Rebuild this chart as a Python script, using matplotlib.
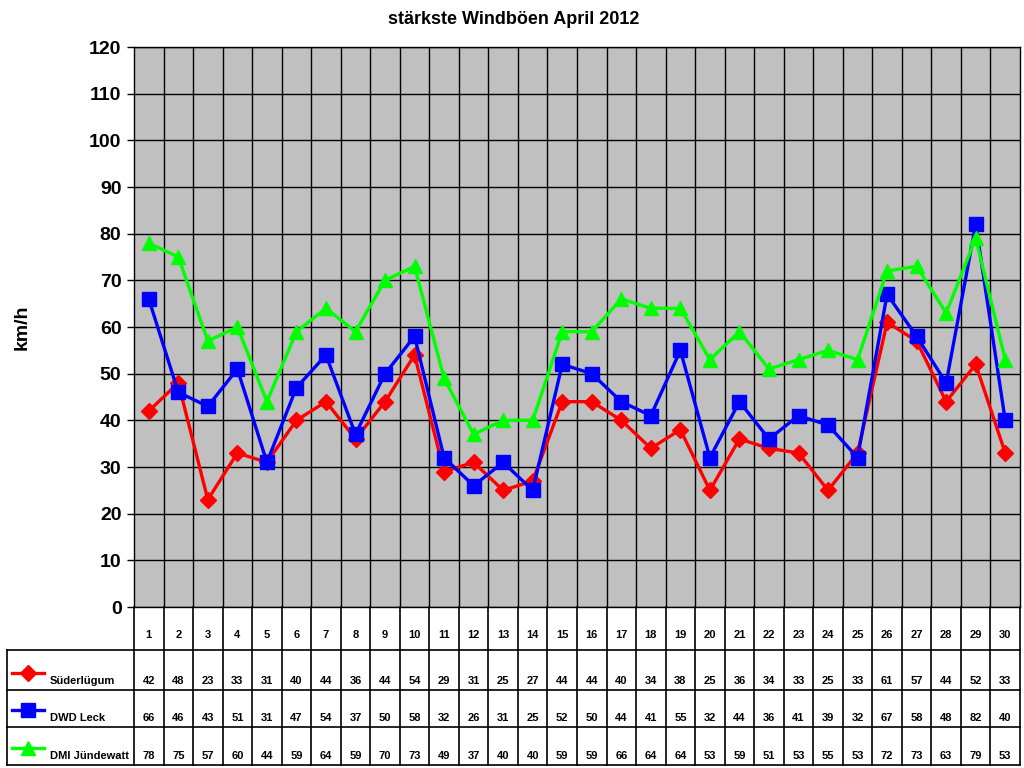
import matplotlib
matplotlib.use("Agg")
import matplotlib.pyplot as plt
from matplotlib.lines import Line2D
import numpy as np

plt.rcParams['font.family'] = ['Liberation Sans', 'DejaVu Sans']
plt.rcParams['font.weight'] = 'bold'

days = list(range(1, 31))
suederluegum = [42, 48, 23, 33, 31, 40, 44, 36, 44, 54, 29, 31, 25, 27, 44, 44, 40, 34, 38, 25,
                36, 34, 33, 25, 33, 61, 57, 44, 52, 33]
dwd_leck = [66, 46, 43, 51, 31, 47, 54, 37, 50, 58, 32, 26, 31, 25, 52, 50, 44, 41, 55, 32,
            44, 36, 41, 39, 32, 67, 58, 48, 82, 40]
dmi_juendewatt = [78, 75, 57, 60, 44, 59, 64, 59, 70, 73, 49, 37, 40, 40, 59, 59, 66, 64, 64, 53,
                  59, 51, 53, 55, 53, 72, 73, 63, 79, 53]
series_names = ['Süderlügum', 'DWD Leck', 'DMI Jündewatt']
series_colors = ['#FF0000', '#0000FF', '#00FF00']
series_markers = ['D', 's', '^']
series_msize = [8, 9.5, 10]
title = 'stärkste Windböen April 2012'
ylabel = 'km/h'

W, H = 1024, 768
fig = plt.figure(figsize=(W / 100, H / 100), dpi=100)
fig.patch.set_facecolor('white')

L, R, T, B = 134, 1020, 47, 607
ax = fig.add_axes([L / W, 1 - B / H, (R - L) / W, (B - T) / H])
ax.set_facecolor('#C0C0C0')

x = np.array(days)
for vals, c, m, ms in zip([suederluegum, dwd_leck, dmi_juendewatt], series_colors, series_markers, series_msize):
    ax.plot(x, vals, color=c, lw=2.4, marker=m, markersize=ms, markerfacecolor=c,
            markeredgecolor=c, zorder=3)

ax.set_xlim(0.5, 30.5)
ax.set_ylim(0, 120)
ax.set_yticks(np.arange(0, 121, 10))
ax.set_yticklabels([str(v) for v in range(0, 121, 10)], fontsize=14, fontweight='bold')
ax.set_xticks([])
ax.set_xticks(np.arange(1.5, 30.5, 1), minor=True)
ax.tick_params(axis='x', which='both', length=0, labelbottom=False)
ax.tick_params(axis='y', length=5, width=1, direction='out', pad=4)
ax.grid(True, axis='y', which='major', color='black', lw=1)
ax.grid(True, axis='x', which='minor', color='black', lw=1)
for s in ax.spines.values():
    s.set_color('black')
    s.set_linewidth(1)
ax.set_axisbelow(True)

fig.text(514 / W, 1 - 20 / H, title, ha='center', va='center', fontsize=13, fontweight='bold')
fig.text(22 / W, 1 - 327 / H, ylabel, ha='center', va='center', rotation=90, fontsize=14, fontweight='bold')

# Data table below the axis
def fx(px):
    return px / W

def fy(py):
    return 1 - py / H

def hline(x0, x1, y):
    fig.add_artist(Line2D([fx(x0), fx(x1)], [fy(y), fy(y)], color='black', lw=1.2, transform=fig.transFigure))

def vline(xp, y0, y1):
    fig.add_artist(Line2D([fx(xp), fx(xp)], [fy(y0), fy(y1)], color='black', lw=1.2, transform=fig.transFigure))

rows_y = [650, 690, 727, 765]
tx0 = 7
colw = (R - L) / len(days)
for ry in rows_y:
    hline(tx0, R, ry)
for i in range(len(days) + 1):
    vline(L + i * colw, B, rows_y[-1])
vline(tx0, rows_y[0], rows_y[-1])

for i, d in enumerate(days):
    cx = L + (i + 0.5) * colw
    fig.text(fx(cx), fy(635), str(d), ha='center', va='center', fontsize=8, fontweight='bold')

series_all = [suederluegum, dwd_leck, dmi_juendewatt]
for r, (vals, name, c, m, ms) in enumerate(zip(series_all, series_names, series_colors, series_markers, series_msize)):
    ytxt = rows_y[r + 1] - 9
    for i, v in enumerate(vals):
        cx = L + (i + 0.5) * colw
        fig.text(fx(cx), fy(ytxt), str(v), ha='center', va='center', fontsize=8, fontweight='bold')
    ykey = rows_y[r + 1] - 17
    fig.add_artist(Line2D([fx(12), fx(44)], [fy(ykey), fy(ykey)], color=c, lw=2.4,
                          transform=fig.transFigure))
    fig.add_artist(Line2D([fx(28)], [fy(ykey)], color=c, marker=m, markersize=ms,
                          markerfacecolor=c, markeredgecolor=c, transform=fig.transFigure))
    fig.text(fx(50), fy(ytxt), name, ha='left', va='center', fontsize=8, fontweight='bold')

fig.savefig('out.png', dpi=100, facecolor='white')
